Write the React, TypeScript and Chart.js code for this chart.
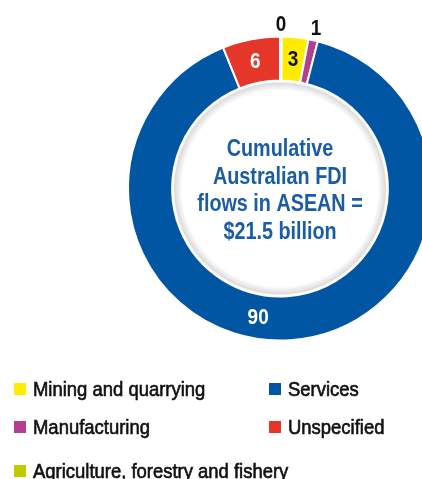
import React, { useEffect, useRef } from "react";
import { Chart, registerables } from "chart.js";

Chart.register(...registerables);

// ---- Data ----
const categories = [
  "Agriculture, forestry and fishery",
  "Mining and quarrying",
  "Manufacturing",
  "Services",
  "Unspecified",
];
const shares = [0.2, 2.8, 1.0, 89.9, 6.1];
const shareLabels = ["0", "3", "1", "90", "6"];
const colors = ["#BFCB00", "#FFEC00", "#B3408F", "#0056A2", "#E5362A"];
const centerLines = ["Cumulative", "Australian FDI", "flows in ASEAN =", "$21.5 billion"];
// legend layout: [category index, column, row]
const legendOrder = [
  [1, 0, 0],
  [3, 1, 0],
  [2, 0, 1],
  [4, 1, 1],
  [0, 0, 2],
];

const FONT = '"Liberation Sans", Arial, sans-serif';

function squeezedText(ctx: any, text: string, x: number, y: number, sx: number) {
  ctx.save();
  ctx.translate(x, y);
  ctx.scale(sx, 1);
  ctx.fillText(text, 0, 0);
  ctx.restore();
}

const labelPlugin = {
  id: "sliceLabels",
  afterDatasetsDraw(chart: any) {
    const ctx = chart.ctx;
    const meta = chart.getDatasetMeta(0);
    ctx.save();
    ctx.textAlign = "center";
    ctx.textBaseline = "middle";
    meta.data.forEach((arc: any, i: number) => {
      const p = arc.getProps(["x", "y", "startAngle", "endAngle", "innerRadius", "outerRadius"], true);
      let a = (p.startAngle + p.endAngle) / 2;
      const v = shares[i];
      let r;
      let color;
      if (v < 2) {
        r = p.outerRadius + 13;
        color = "#111";
      } else {
        r = (p.innerRadius + p.outerRadius) / 2;
        color = i === 1 ? "#111" : "#fff";
        if (i === 3) a += 0.235;
      }
      ctx.fillStyle = color;
      ctx.font = `bold 22px ${FONT}`;
      squeezedText(ctx, shareLabels[i], p.x + r * Math.cos(a), p.y + r * Math.sin(a) + 1, 0.86);
    });
    ctx.restore();
  },
};

const centerPlugin = {
  id: "centerDisc",
  afterDatasetsDraw(chart: any) {
    const ctx = chart.ctx;
    const arc: any = chart.getDatasetMeta(0).data[0];
    if (!arc) return;
    const p = arc.getProps(["x", "y", "innerRadius"], true);
    const r = p.innerRadius;
    ctx.save();
    // soft grey inner rim
    const g = ctx.createRadialGradient(p.x, p.y, r - 10, p.x, p.y, r - 1);
    g.addColorStop(0, "rgba(255,255,255,1)");
    g.addColorStop(0.55, "rgba(232,232,232,1)");
    g.addColorStop(0.82, "rgba(220,220,220,1)");
    g.addColorStop(1, "rgba(255,255,255,1)");
    ctx.beginPath();
    ctx.arc(p.x, p.y, r - 1, 0, Math.PI * 2);
    ctx.fillStyle = g;
    ctx.fill();
    ctx.fillStyle = "#1A5CA5";
    ctx.font = `bold 23px ${FONT}`;
    ctx.textAlign = "center";
    ctx.textBaseline = "middle";
    const lh = 27.7;
    const y0 = p.y - 39;
    centerLines.forEach((t, i) => squeezedText(ctx, t, p.x, y0 + i * lh, 0.86));
    ctx.restore();
  },
};

export default function App() {
  const ref = useRef<HTMLCanvasElement | null>(null);
  useEffect(() => {
    if (!ref.current) return;
    const chart = new Chart(ref.current, {
      type: "doughnut",
      data: {
        labels: categories,
        datasets: [
          {
            data: shares,
            backgroundColor: colors,
            borderColor: "#ffffff",
            borderWidth: 2,
          },
        ],
      },
      options: {
        responsive: false,
        animation: false,
        cutout: "71%",
        layout: { padding: { left: 127, right: 27, top: 35, bottom: 137 } },
        plugins: { legend: { display: false }, tooltip: { enabled: false } },
      },
      plugins: [centerPlugin, labelPlugin],
    });
    return () => chart.destroy();
  }, []);

  return (
    <div style={{ position: "fixed", left: 0, top: 0, width: 422, height: 479, overflow: "hidden", background: "#fff" }}>
      <canvas ref={ref} width={460} height={479} style={{ position: "absolute", left: 0, top: 0, width: 460, height: 479 }} />
      {legendOrder.map(([ci, col, row]) => (
        <div
          key={ci}
          style={{
            position: "absolute",
            left: col === 0 ? 14 : 269,
            top: [382, 420, 464][row],
            display: "flex",
            alignItems: "center",
            fontFamily: FONT,
            fontSize: 20.5,
            color: "#111",
            whiteSpace: "nowrap",
            lineHeight: "14px",
          }}
        >
          <span style={{ display: "inline-block", width: 12, height: 12, background: colors[ci], marginRight: 7, flex: "none" }} />
          <span
            style={{
              display: "inline-block",
              transform: "scaleX(0.9)",
              transformOrigin: "left center",
              WebkitTextStroke: "0.65px #111",
            }}
          >
            {categories[ci]}
          </span>
        </div>
      ))}
    </div>
  );
}
